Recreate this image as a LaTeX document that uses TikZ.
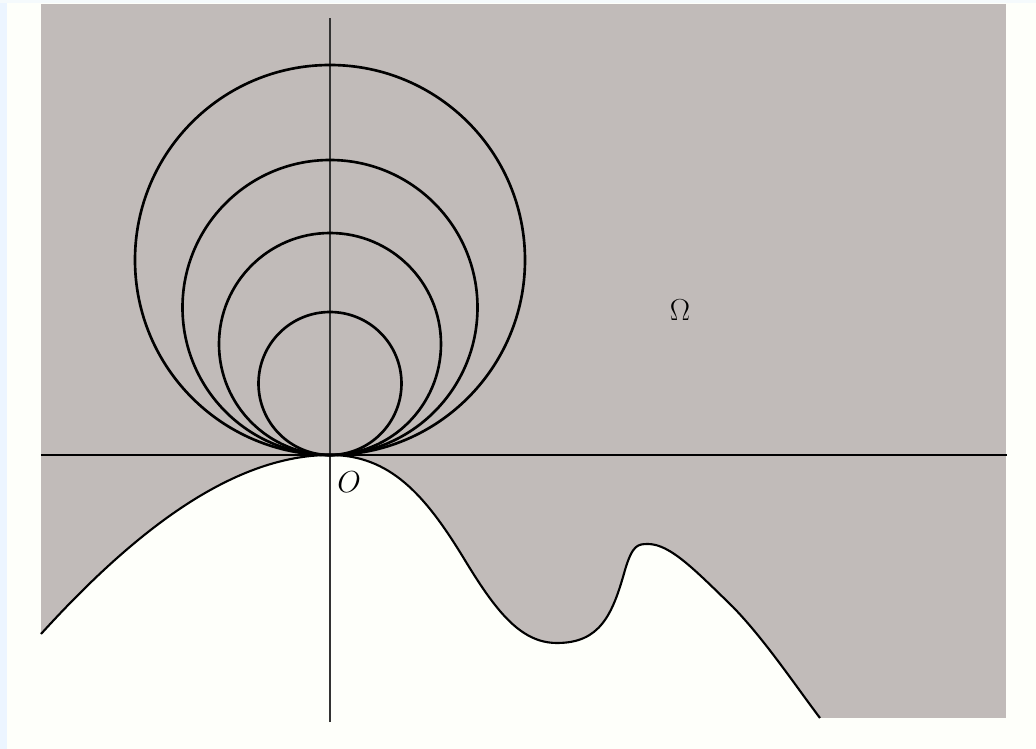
\documentclass[tikz,border=0pt]{standalone}
\usetikzlibrary{positioning}

\definecolor{domaingray}{RGB}{193,187,185}
\definecolor{paper}{RGB}{254,255,250}
\definecolor{edgeblue}{RGB}{236,245,255}

% lower boundary of the domain, through O
\newcommand{\boundarypath}{%
  (-5.78,-3.58) .. controls (-4.0,-1.62) and (-2.0,0) .. (0,0)
  .. controls (1.2,0) and (1.9,-0.8) .. (2.66,-2.04)
  .. controls (3.3,-3.1) and (3.8,-3.76) .. (4.54,-3.76)
  .. controls (5.4,-3.76) and (5.65,-3.2) .. (5.9,-2.3)
  .. controls (6.05,-1.8) and (6.15,-1.78) .. (6.36,-1.78)
  .. controls (6.8,-1.78) and (7.3,-2.3) .. (8.06,-3.04)
  .. controls (8.7,-3.7) and (9.3,-4.6) .. (9.8,-5.26)}

\begin{document}
\begin{tikzpicture}[
    axis/.style={line width=0.7pt, black!80},
    tangent/.style={line width=1.5pt},
    boundary/.style={line width=1.2pt},
    lbl/.style={font=\LARGE, inner sep=0pt}
  ]
  % frame, 1cm = 50px of the reference
  \useasboundingbox (-6.6,-5.88) rectangle (14.12,9.1);
  \fill[paper] (-6.6,-5.88) rectangle (14.12,9.1);
  \fill[edgeblue] (-6.6,-5.88) rectangle (-6.46,9.1);
  \fill[edgeblue!50!paper] (-6.6,9.03) rectangle (14.12,9.1);

  % domain
  \fill[domaingray] (-5.78,-5.26) rectangle (13.52,9.02);
  \fill[paper] \boundarypath -- (-5.78,-5.26) -- cycle;
  \draw[boundary] \boundarypath;

  % axes
  \coordinate (o) at (0,0);
  \draw[axis] (0,-5.34) -- (0,8.74);
  \draw[tangent] (-5.78,0) -- (13.54,0);

  % tangent balls
  \foreach \r in {1.43,2.22,2.95,3.9}
    \draw[tangent] (0,\r) circle (\r);

  \node[lbl, anchor=north west] (Olbl) at (0.14,-0.32) {$O$};
  \node[lbl] (Omega) at (7.0,2.9) {$\Omega$};
\end{tikzpicture}
\end{document}
